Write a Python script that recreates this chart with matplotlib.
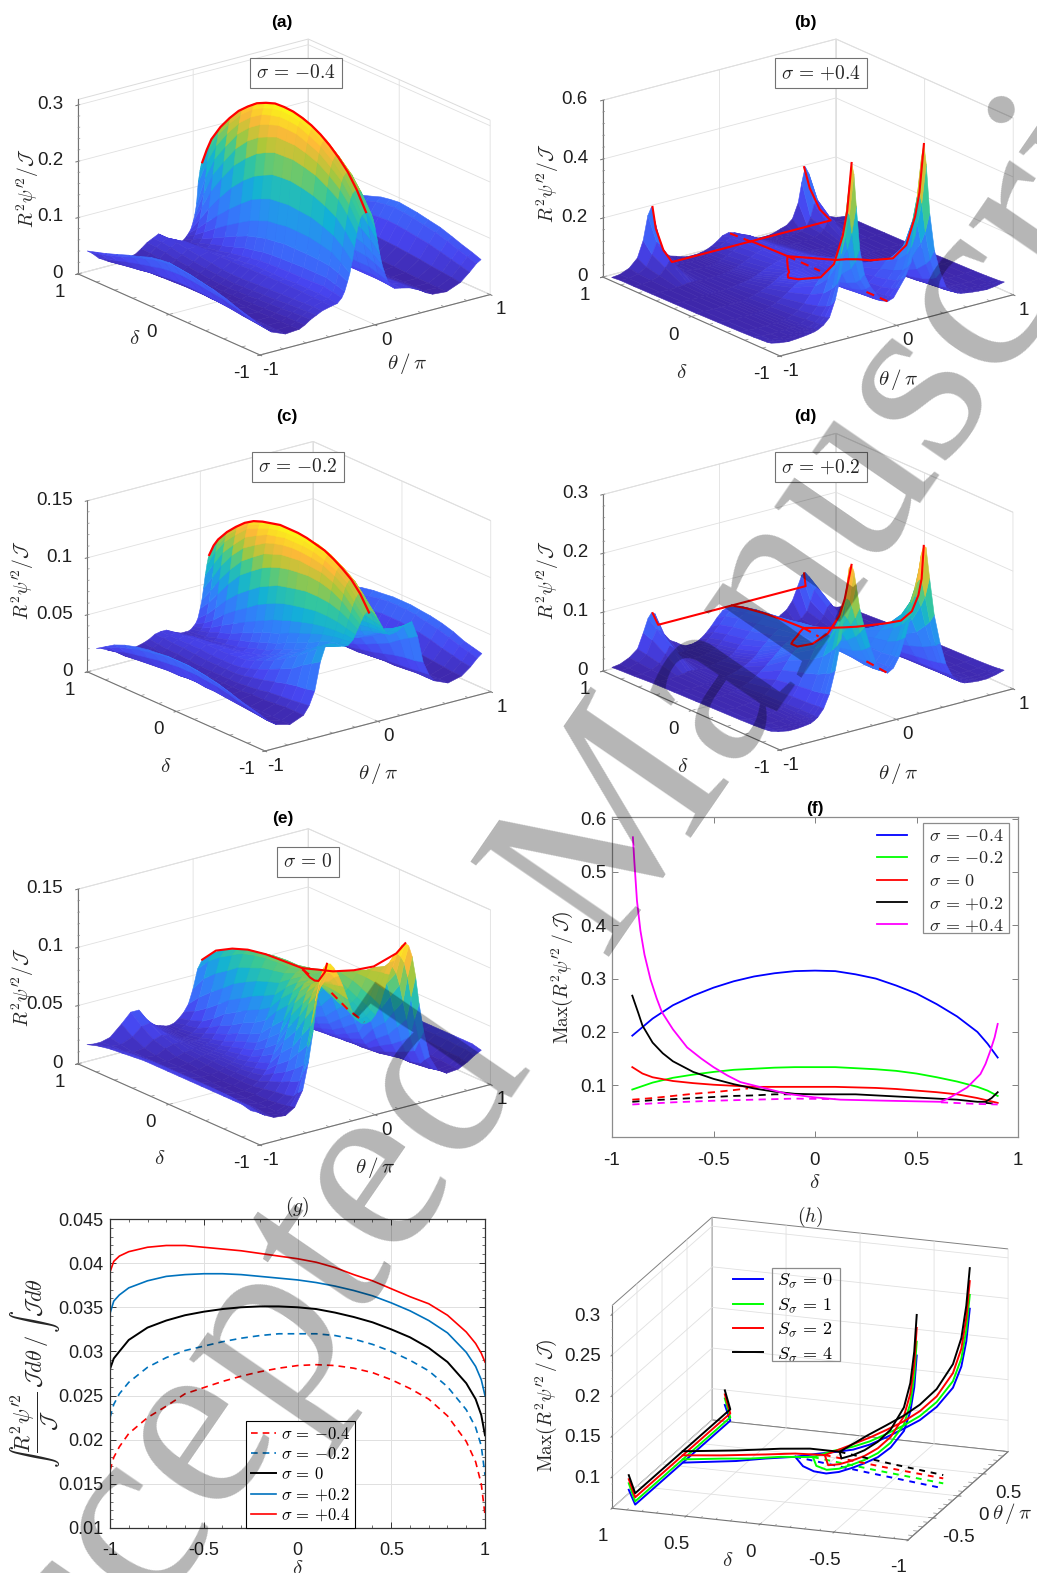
import numpy as np
import matplotlib
matplotlib.use('Agg')
import matplotlib.pyplot as plt
from matplotlib.colors import LinearSegmentedColormap, Normalize
from matplotlib.patches import Rectangle
from matplotlib.lines import Line2D
from mpl_toolkits.mplot3d import proj3d

plt.rcParams['font.family'] = ['Liberation Sans', 'DejaVu Sans']
plt.rcParams['mathtext.fontset'] = 'cm'
plt.rcParams['grid.color'] = '0.88'
plt.rcParams['grid.linewidth'] = 0.6
plt.rcParams['axes.unicode_minus'] = False

W, H = 1037, 1573
PARULA = ['#3e26a8', '#4745f0', '#3a6ffb', '#2d87f7', '#12b1d6', '#37c898', '#abc739', '#feb938', '#f9fb15']
parula = LinearSegmentedColormap.from_list('parula', PARULA)

# ---------- surface tables: rows are delta, columns theta >= 0 (values x 1e-3) ----------
delta_ac = [-.9, -.8, -.7, -.58, -.45, -.32, -.2, -.1, 0, .1, .2, .32, .45, .58, .7, .8, .9]
theta_ac = [0, .01, .02, .035, .05, .065, .08, .10, .12, .14, .16, .185, .21, .25, .30, .38, .43, .48, .53, .58, .70, .82, .90, .96, 1]
surf_a = [
    [193,193,192,190,185,175,160,136,112,92,78,62,52,44,42,38,33,28,21,16,14,24,38,50,55],
    [225,224,223,220,213,202,185,158,130,104,86,67,55,46,43,38,32,27,20,15,14,26,42,55,61],
    [250,249,247,243,235,222,205,175,143,115,92,72,58,47,43,37,31,26,20,15,15,28,46,60,66],
    [271,270,267,262,252,238,218,186,151,120,94,72,57,47,44,36,30,24,19,15,15,30,51,67,73],
    [289,288,285,279,268,252,230,195,158,124,95,72,56,47,44,35,28,23,18,14,16,33,56,73,80],
    [301,300,297,289,277,260,236,200,160,125,95,71,56,46,44,34,27,22,17,14,17,35,59,77,84],
    [310,309,305,297,284,265,240,203,162,125,95,70,55,46,44,33,26,20,16,14,18,37,62,81,88],
    [314,312,308,299,285,265,239,202,160,122,92,69,54,46,43,32,25,20,16,14,18,38,64,83,90],
    [315,313,309,299,285,265,238,200,158,120,90,67,53,46,43,31,24,19,16,14,19,39,65,85,92],
    [313,311,306,295,279,258,231,192,151,113,85,63,50,44,42,31,25,19,16,14,19,39,64,83,90],
    [308,306,300,289,272,250,222,183,143,106,80,60,47,42,42,32,26,20,16,14,19,38,62,80,87],
    [298,295,289,276,258,235,205,167,127,94,71,53,43,40,42,35,28,22,17,14,18,36,57,74,80],
    [280,277,270,256,237,212,183,145,108,80,60,46,38,37,42,38,31,25,19,15,17,33,52,67,73],
    [255,252,244,228,206,180,152,118,87,65,49,39,34,35,42,41,34,28,21,16,16,29,46,59,65],
    [229,225,216,198,175,148,120,90,66,50,39,32,30,33,41,44,38,32,24,18,15,26,40,52,58],
    [198,194,184,163,135,108,85,63,48,38,31,26,25,29,37,45,40,34,26,19,15,23,35,47,53],
    [152,148,138,118,80,62,50,38,32,27,23,20,20,25,33,45,40,35,27,20,14,20,30,42,48]]
surf_c = [
    [94,94,93,92,90,87,84,80,76,72,70,68,68,69,72,74,60,36,24,17,12,15,21,27,30],
    [105,105,104,102,99,95,90,85,78,73,69,66,65,65,67,67,55,34,23,17,12,15,22,29,32],
    [114,114,113,111,108,103,97,89,80,73,68,64,62,62,63,60,50,33,22,17,12,16,24,31,34],
    [122,121,120,118,114,109,102,92,81,72,66,60,56,55,56,53,43,31,21,16,12,17,26,34,38],
    [128,127,126,123,119,113,105,93,81,70,62,55,50,48,48,46,38,28,20,15,12,18,29,37,41],
    [131,131,129,126,121,114,106,93,79,67,58,50,45,43,42,40,33,25,18,15,13,19,31,39,43],
    [133,132,131,127,122,115,105,91,77,64,54,46,41,38,37,35,29,23,17,14,13,20,32,41,44],
    [134,133,131,127,122,114,104,89,75,61,50,42,37,34,33,32,26,21,16,14,13,20,33,42,45],
    [134,133,131,127,121,113,102,87,72,58,47,39,33,30,30,29,24,20,16,14,13,21,33,42,45],
    [133,132,130,125,119,110,99,83,68,54,44,36,31,28,28,28,23,20,16,14,13,21,33,42,45],
    [132,131,128,123,116,107,95,79,64,50,40,33,28,26,27,27,23,20,16,14,13,20,32,41,44],
    [129,127,124,118,110,100,88,72,57,45,36,30,25,24,26,27,23,20,16,14,13,20,31,39,43],
    [124,122,119,112,103,92,80,64,50,39,31,26,23,23,25,27,24,21,17,15,13,19,29,37,41],
    [116,113,109,101,92,80,68,54,42,33,27,23,21,21,24,27,24,22,18,15,14,18,27,34,38],
    [107,104,99,90,79,67,55,43,33,27,23,20,19,20,23,26,24,22,18,16,14,17,25,31,34],
    [96,93,87,77,65,54,44,34,27,23,21,19,18,19,21,25,24,23,19,17,14,16,22,27,29],
    [80,77,72,63,52,42,35,27,23,21,19,18,18,18,20,24,24,23,20,18,15,16,20,23,24]]
theta_e = [0, .04, .08, .12, .16, .2, .24, .28, .31, .34, .37, .40, .43, .46, .50, .55, .62, .7, .8, .88, .94, 1]
delta_e = [-.9, -.85, -.8, -.7, -.6, -.47, -.35, -.22, -.1, .02, .15, .27, .4, .52, .65, .78, .9]
surf_e = [
    [75,76,80,88,100,112,122,130,134,135,132,122,104,80,55,32,19,14,15,19,23,26],
    [77,78,82,90,101,111,119,124,125,122,116,103,85,65,45,28,18,14,15,19,24,27],
    [80,81,85,92,102,110,114,115,112,106,95,80,64,48,35,23,17,14,15,20,25,28],
    [84,85,88,95,103,108,110,107,101,94,82,68,54,41,31,21,16,14,16,20,25,28],
    [88,89,92,98,103,105,104,98,90,80,68,55,44,35,27,20,15,14,16,21,26,28],
    [93,94,97,100,101,99,93,85,75,65,55,45,36,29,23,18,15,14,16,22,26,28],
    [98,99,100,99,95,88,78,66,56,47,39,32,27,23,19,16,14,14,16,22,26,28],
    [98,98,96,92,86,78,68,56,47,39,33,28,24,21,18,16,14,14,17,22,26,28],
    [97,96,92,85,76,66,56,46,39,33,28,25,22,20,18,16,14,14,17,22,26,28],
    [97,96,90,82,71,60,50,41,35,30,26,23,21,20,18,16,15,15,17,22,26,28],
    [97,95,88,78,66,55,45,37,31,27,24,22,21,20,19,17,15,15,17,22,26,28],
    [95,93,84,73,60,49,39,32,27,24,22,21,20,20,19,18,16,15,17,22,26,28],
    [93,90,80,67,54,43,34,28,24,22,21,20,20,20,20,19,17,15,17,21,25,27],
    [89,85,73,59,46,35,28,24,21,20,20,20,20,21,22,22,20,16,17,21,24,26],
    [84,79,66,51,38,28,23,20,19,18,18,19,20,22,24,25,23,18,17,20,23,25],
    [77,71,57,42,31,24,21,19,18,18,19,20,21,23,27,31,30,23,19,20,21,23],
    [67,60,44,32,26,22,19,18,18,19,20,21,23,25,30,38,38,30,21,19,19,20]]
theta_bd = [0, .05, .1, .15, .2, .24, .27, .29, .31, .33, .36, .4, .45, .5, .55, .6, .63, .66, .69, .73, .78, .85, .93, 1]
delta_bd = [-0.9, -0.85, -0.8, -0.7, -0.55, -0.3, -0.05, 0.2, 0.45, 0.65, 0.8, 0.9]
surf_b = [
    [68,75,105,135,180,270,420,530,570,500,330,200,120,65,45,34,30,28,26,24,22,20,24,30],
    [66,72,95,120,155,220,320,385,400,360,260,160,95,60,42,32,28,26,24,22,21,20,23,27],
    [65,70,88,110,140,190,260,300,310,285,215,140,85,55,40,30,27,25,23,22,20,20,22,26],
    [65,68,80,100,125,160,190,200,200,190,155,110,72,50,37,28,25,23,22,21,20,19,21,24],
    [65,67,75,90,110,128,135,135,132,125,110,85,60,43,32,25,23,21,20,19,19,18,20,22],
    [64,65,70,78,86,90,90,88,85,80,72,60,46,35,27,22,20,19,18,18,17,17,18,20],
    [70,74,76,78,78,75,70,65,60,55,48,42,34,27,22,19,18,17,17,16,16,16,17,18],
    [72,71,68,62,55,48,43,39,36,33,30,27,24,21,19,18,17,17,16,16,15,15,16,17],
    [70,68,62,52,43,36,31,28,26,24,22,20,19,18,18,19,20,21,21,18,16,15,15,16],
    [68,66,58,46,36,29,25,22,20,19,18,17,17,18,21,30,40,60,70,50,28,19,15,15],
    [64,62,54,42,32,26,22,20,19,18,17,16,16,18,22,36,60,100,112,75,38,22,15,15],
    [60,55,40,28,20,17,15,15,15,15,16,20,27,33,50,100,165,215,190,110,55,28,15,12]]
surf_d = [
    [72,78,95,125,160,195,235,260,272,268,215,150,100,62,40,28,24,21,20,19,18,18,21,25],
    [72,77,92,118,148,175,198,208,212,210,180,135,92,60,40,28,24,21,20,19,18,18,20,24],
    [72,76,90,112,138,160,172,178,180,178,160,125,88,58,39,28,24,21,20,19,18,18,20,23],
    [73,76,88,105,125,138,144,145,144,142,130,108,80,55,38,28,24,21,20,19,18,18,19,22],
    [76,79,88,100,110,116,118,118,117,115,108,92,72,52,37,27,24,22,20,19,18,18,19,21],
    [80,81,85,90,93,94,93,92,91,89,84,74,60,46,34,26,23,21,20,19,18,17,18,20],
    [83,84,84,83,80,76,71,67,64,60,55,48,40,33,27,23,21,20,19,18,17,17,18,19],
    [83,82,78,71,62,55,49,44,41,38,34,30,26,23,21,20,19,18,18,17,17,16,17,18],
    [79,77,70,60,50,42,36,32,29,27,25,23,21,20,19,19,19,20,20,18,17,16,16,17],
    [75,73,66,54,44,36,30,27,25,23,21,20,19,19,20,26,34,45,50,38,25,18,15,15],
    [70,68,60,48,38,30,25,23,21,20,19,18,18,19,22,32,48,64,68,52,30,20,15,14],
    [64,60,50,38,28,22,19,18,17,17,17,20,27,33,46,70,85,88,80,58,33,22,15,13]]

# ---------- panel (f) ----------
f_delta = [-.9,-.8,-.7,-.6,-.5,-.4,-.3,-.2,-.1,0,.1,.2,.3,.4,.5,.6,.7,.8,.85,.9]
f_blue = [.193,.225,.25,.268,.283,.295,.304,.31,.314,.315,.314,.308,.3,.287,.272,.252,.229,.2,.178,.152]
f_green = [.092,.105,.114,.12,.125,.129,.131,.133,.134,.134,.134,.132,.13,.127,.122,.115,.107,.097,.09,.08]
f_red_x = [-.9,-.85,-.8,-.7,-.6,-.5,-.4,-.3,-.2,-.1,0,.1,.2,.3,.4,.5,.6,.7,.8,.9]
f_red = [.134,.122,.115,.108,.104,.101,.099,.097,.097,.097,.097,.097,.096,.095,.093,.09,.087,.083,.076,.067]
f_red_dx = [-.9,-.8,-.7,-.6,-.5,-.4,-.33]
f_red_d = [.073,.076,.08,.084,.087,.091,.094]
f_black_x = [-.9,-.87,-.85,-.8,-.75,-.7,-.6,-.5,-.4,-.3,-.2,-.1,0,.1,.2,.3,.4,.5,.6,.7,.8,.84,.87,.9]
f_black = [.268,.235,.212,.18,.16,.145,.125,.112,.102,.094,.088,.084,.083,.083,.083,.081,.079,.077,.075,.073,.069,.069,.076,.087]
f_black_dx = [-.9,-.8,-.7,-.6,-.5,-.4,-.3,-.2,-.1]
f_black_d = [.069,.072,.074,.076,.078,.08,.081,.083,.083]
f_black_dx2 = [.84, .9]
f_black_d2 = [.067, .065]
f_mag_x = [-.897,-.89,-.877,-.86,-.84,-.81,-.78,-.754,-.7,-.63,-.56,-.5,-.43,-.368,-.253,-.138,-.007,.125,.355,.617,.65,.683,.75,.815,.84,.864,.885,.9]
f_mag = [.565,.52,.446,.39,.345,.298,.263,.237,.205,.171,.15,.134,.118,.106,.095,.084,.0775,.073,.071,.069,.074,.081,.096,.121,.14,.165,.19,.215]
f_mag_dx = [-.9,-.7,-.5,-.3,-.1,.1]
f_mag_d = [.064,.068,.071,.073,.075,.074]
f_mag_dx2 = [.62,.8,.9]
f_mag_d2 = [.068,.065,.064]
sigma_labels = [r'$\sigma\,=\,{-}0.4$', r'$\sigma\,=\,{-}0.2$', r'$\sigma\,=\,0$', r'$\sigma\,=\,{+}0.2$', r'$\sigma\,=\,{+}0.4$']

# ---------- panel (g) ----------
g_x = [-1,-.98,-.95,-.9,-.8,-.7,-.6,-.5,-.4,-.3,-.2,-.1,0,.1,.2,.3,.4,.5,.6,.7,.8,.9,.95,.98,1]
g_p04 = [.039,.0402,.0408,.0413,.0418,.042,.042,.0418,.0416,.0414,.0411,.0408,.0405,.0401,.0395,.0387,.038,.0371,.0362,.0354,.0341,.0322,.0309,.0298,.0288]
g_p02 = [.0343,.0357,.0364,.0372,.038,.0385,.0387,.0388,.0388,.0387,.0385,.0383,.0381,.0378,.0374,.0369,.0363,.0355,.0346,.0335,.0321,.0299,.0283,.0268,.025]
g_0 = [.028,.0292,.03,.0313,.0327,.0335,.0341,.0345,.0348,.035,.0351,.0351,.035,.0348,.0344,.0339,.0333,.0325,.0316,.0304,.0288,.0264,.0246,.0228,.0205]
g_m02 = [.0225,.024,.0252,.0265,.0282,.0293,.0301,.0306,.0311,.0315,.0318,.032,.032,.032,.0318,.0314,.0308,.03,.029,.0278,.026,.0234,.0214,.0193,.016]
g_m04 = [.0165,.018,.0192,.0207,.0225,.0238,.0252,.0259,.0266,.0272,.0277,.0281,.0284,.0285,.0284,.0281,.0276,.0268,.0258,.0246,.0227,.0198,.0175,.015,.0115]

# ---------- panel (h): ridge (delta, |theta|, z), theta=0 solid, dashed, end pieces ----------
S_labels = [r'$S_\sigma\,=\,0$', r'$S_\sigma\,=\,1$', r'$S_\sigma\,=\,2$', r'$S_\sigma\,=\,4$']
S_colors = ['#0000ff', '#00ff00', '#ff0000', '#000000']
h_ridge_d = [[-.9,-.88,-.85,-.8,-.7,-.6,-.5,-.4,-.3,-.2,-.1,0,.1],
             [-.9,-.88,-.85,-.8,-.7,-.6,-.5,-.4,-.3,-.2,-.1,-.02],
             [-.9,-.88,-.85,-.8,-.7,-.6,-.5,-.4,-.3,-.2,-.1],
             [-.9,-.88,-.85,-.8,-.7,-.6,-.5,-.4,-.3,-.2]]
h_ridge_t = [[.53,.52,.51,.49,.46,.42,.39,.35,.31,.27,.22,.14,0],
             [.53,.52,.51,.49,.46,.42,.39,.35,.31,.26,.17,0],
             [.53,.52,.51,.49,.46,.42,.39,.35,.3,.23,0],
             [.53,.52,.51,.49,.46,.42,.39,.34,.26,0]]
h_ridge_z = [[.261,.221,.19,.164,.14,.124,.113,.103,.094,.088,.086,.086,.088],
             [.278,.235,.2,.172,.146,.129,.117,.107,.098,.092,.09,.09],
             [.295,.25,.212,.182,.153,.135,.122,.112,.103,.096,.094],
             [.311,.265,.225,.193,.162,.143,.129,.118,.108,.1]]
h_zero_d = [[.1,.3,.5,.7,.86], [-.02,.2,.4,.6,.86], [-.1,.1,.3,.6,.86], [-.2,0,.2,.5,.86]]
h_zero_z = [[.088,.082,.075,.07,.066], [.09,.086,.08,.076,.07], [.094,.092,.087,.08,.075], [.1,.1,.096,.088,.08]]
h_dash_d = [[.1,-.4,-.9], [-.02,-.45,-.9], [-.1,-.5,-.9], [-.2,-.55,-.9]]
h_dash_z = [[.088,.078,.0687], [.09,.082,.0748], [.094,.087,.0809], [.1,.092,.085]]
h_top_z = [.084, .092, .097, .102]
h_end_theta = [-.96, -.95, .95, .96]
h_end_delta = [.9, .86, .86, .9]


def fx(px):
    return px / W


def fy(py):
    return 1 - py / H


def pr(ax, x, y, z):
    xs, ys, _ = proj3d.proj_transform(x, y, z, ax.get_proj())
    return ax.transData.transform((xs, ys))


def fit3d(ax, p1, p2, t1, t2):
    """scale and move the square 3D axes so data points p1, p2 land on pixels t1, t2"""
    S = 500.0
    cx, cy = 500.0, 800.0
    for _ in range(4):
        ax.set_position([fx(cx - S / 2), fy(cy + S / 2), S / W, S / H])
        ax.apply_aspect()
        a, b = pr(ax, *p1), pr(ax, *p2)
        S *= np.hypot(t2[0] - t1[0], t2[1] - t1[1]) / np.hypot(*(b - a))
        ax.set_position([fx(cx - S / 2), fy(cy + S / 2), S / W, S / H])
        ax.apply_aspect()
        a = pr(ax, *p1)
        cx += t1[0] - a[0]
        cy -= (H - t1[1]) - a[1]
    ax.set_position([fx(cx - S / 2), fy(cy + S / 2), S / W, S / H])
    ax.apply_aspect()


def pin(ax, label, px, py, rot=0):
    """keep a 3D axis label as the axis' own text, at a fixed place on the page (after fit3d)"""
    label.set_position(tuple(ax.transData.inverted().transform((px, H - py))))
    label.set_rotation(rot)
    label.set_position = lambda xy: None


def style3d(ax, xticks, xl, yticks, yl, zticks, zl, zmax, zmin=0, edge='0.86', xpad=0, ypad=0, zpad=0,
            minor=(0.2, 0.2, None)):
    ax.set_proj_type('ortho')
    ax.patch.set_alpha(0)
    ax.set_xlim(-1, 1)
    ax.set_ylim(-1, 1)
    ax.set_zlim(zmin, zmax)
    ax.set_xticks(xticks, labels=xl, va='center')
    ax.set_yticks(yticks, labels=yl, va='center')
    ax.set_zticks(zticks, labels=zl, ha='right', va='center')
    for axis in (ax.xaxis, ax.yaxis, ax.zaxis):
        axis.set_pane_color((1, 1, 1, 1))
        axis.pane.set_edgecolor(edge)
        axis.pane.set_linewidth(0.7)
        axis.line.set_color('0.45')
        axis.line.set_linewidth(0.8)
        axis.set_rotate_label(False)
        axis._axinfo['tick'].update(inward_factor=0.12, outward_factor=0.0)
        axis._axinfo['tick']['linewidth'] = {True: 0.7, False: 0.5}
        axis._axinfo['grid'].update(color='0.88', linewidth=0.6)
    ax.tick_params(axis='both', labelsize=13.5, labelcolor='0.12', color='0.45')
    ax.tick_params(axis='x', pad=xpad)
    ax.tick_params(axis='y', pad=ypad)
    ax.tick_params(axis='z', pad=zpad)
    # minor tick marks on the three drawn edges
    mx, my, mz = minor
    for v in np.arange(-1, 1.0001, mx):
        ax.plot([v, v], [-1, -0.97], [zmin, zmin], color='0.55', lw=0.5, zorder=0.5)
    for v in np.arange(-1, 1.0001, my):
        ax.plot([-1, -0.97], [v, v], [zmin, zmin], color='0.55', lw=0.5, zorder=0.5)
    for v in np.arange(zmin, zmax + 1e-9, mz):
        ax.plot([-1, -0.985], [1, 1], [v, v], color='0.55', lw=0.5, zorder=0.5)


def surface(ax, th_half, deltas, rows):
    th_half = np.array(th_half, float)
    rows = np.array(rows, float) * 1e-3
    th = np.r_[-th_half[:0:-1], th_half]
    Z = np.hstack([rows[:, :0:-1], rows])
    X, Y = np.meshgrid(th, np.array(deltas, float))
    faces = (Z[:-1, :-1] + Z[1:, :-1] + Z[:-1, 1:] + Z[1:, 1:]) / 4
    fc = parula(Normalize(Z.min(), Z.max())(faces))
    ax.plot_surface(X, Y, Z, rstride=1, cstride=1, facecolors=fc, linewidth=0.4, antialiased=True,
                    shade=False, zorder=1)


def red(ax, t, d, z, ls='-', lw=1.5):
    ax.plot(t, d, z, color='#ff0000', lw=lw, ls=ls, zorder=5)


def title3d(ax, txt, px, py, **kw):
    t = ax.set_title(txt, transform=fig.transFigure, **kw)
    t.set_position((fx(px), fy(py)))
    t.set_verticalalignment('center')
    ax._autotitlepos = False


fig = plt.figure(figsize=(W / 100, H / 100), dpi=100)


def panel(title, tpos, sig, spos, anchors, aspect, zticks, zl, zmax, th, dl, rows, minor_z, lab_t, lab_d, lab_z):
    ax = fig.add_subplot(projection='3d', computed_zorder=False)
    ax.view_init(elev=20, azim=-127.5)
    ax.set_box_aspect((1, aspect, 0.64))
    style3d(ax, [-1, 0, 1], ['-1', '0', '1'], [-1, 0, 1], ['-1', '0', '1'], zticks, zl, zmax,
            xpad=2, ypad=5, zpad=-2, minor=(0.2, 0.2, minor_z))
    surface(ax, th, dl, rows)
    ax.set_xlabel(r'$\theta\,/\,\pi$', fontsize=15, color='0.15')
    ax.set_ylabel(r'$\delta$', fontsize=15, color='0.15')
    ax.set_zlabel(r"$R^2\psi^{\prime 2}/\mathcal{J}$", fontsize=14, color='0.15')
    fit3d(ax, (-1, -1, 0), (1, -1, 0), anchors[0], anchors[1])
    pin(ax, ax.xaxis.label, *lab_t)
    pin(ax, ax.yaxis.label, *lab_d)
    pin(ax, ax.zaxis.label, *lab_z, rot=90)
    title3d(ax, title, tpos[0], tpos[1], fontweight='bold', fontsize=12.5)
    ax.text2D(fx(spos[0]), fy(spos[1]), sig, transform=fig.transFigure, fontsize=14, ha='center', va='center',
              color='0.15', zorder=20,
              bbox=dict(boxstyle='square,pad=0.3', fc='white', ec='0.45', lw=0.8))
    return ax


ax_a = panel('(a)', (282, 22), sigma_labels[0], (296, 73), ((260, 355), (490, 294)), 1.03,
             [0, .1, .2, .3], ['0', '0.1', '0.2', '0.3'], .31, theta_ac, delta_ac, surf_a, .02,
             (407, 364), (135, 338), (28, 188))
red(ax_a, np.zeros(len(f_delta)), f_delta, f_blue, lw=1.6)

ax_b = panel('(b)', (805, 22), sigma_labels[4], (821, 73), ((780, 356), (1013, 294)), 0.99,
             [0, .2, .4, .6], ['0', '0.2', '0.4', '0.6'], .6, theta_bd, delta_bd, surf_b, .04,
             (898, 380), (682, 373), (548, 183))
b_rd = [-.9, -.85, -.8, -.7, -.55, -.3, -.17, -.1, -.05, .03, .1, .17, .23, .45, .64]
b_rt = [.31, .31, .31, .31, .31, .31, .3, .25, .2, .15, .1, .05, 0, 0, 0]
b_rz = [.57, .4, .31, .2, .135, .095, .082, .078, .074, .072, .071, .07, .07, .068, .066]
red(ax_b, b_rt, b_rd, b_rz)
red(ax_b, -np.array(b_rt[:13]), b_rd[:13], b_rz[:13])
b_jt = [.65, .66, .67, .68, -.68, -.67, -.66, -.65]
b_jd = [.9, .85, .75, .64, .64, .75, .85, .9]
b_jz = [.215, .15, .09, .066, .066, .09, .15, .215]
red(ax_b, b_jt, b_jd, b_jz)
red(ax_b, [0, 0], [.23, -.135], [.07, .069], ls=(0, (4, 3)))
red(ax_b, [0, 0], [-.66, -.9], [.068, .068], ls=(0, (4, 3)))
red(ax_b, [0, 0], [.64, .9], [.064, .06], ls=(0, (4, 3)))

ax_c = panel('(c)', (287, 417), sigma_labels[1], (298, 467), ((265, 751), (490, 689)), 1.025,
             [0, .05, .1, .15], ['0', '0.05', '0.1', '0.15'], .15, theta_ac, delta_ac, surf_c, .01,
             (378, 774), (166, 767), (23, 580))
red(ax_c, np.zeros(len(f_delta)), f_delta, f_green, lw=1.6)

ax_d = panel('(d)', (805, 416), sigma_labels[3], (821, 467), ((780, 750), (1013, 689)), 0.99,
             [0, .1, .2, .3], ['0', '0.1', '0.2', '0.3'], .3, theta_bd, delta_bd, surf_d, .02,
             (898, 774), (683, 767), (548, 580))
d_rd = [-.9, -.85, -.8, -.7, -.55, -.38, -.18, -.12, -.05, 0, .05, .3, .5, .7, .86]
d_rt = [.31, .33, .34, .36, .38, .38, .28, .22, .13, .07, 0, 0, 0, 0, 0]
d_rz = [.272, .212, .18, .145, .118, .102, .088, .086, .085, .085, .085, .083, .08, .075, .069]
red(ax_d, d_rt, d_rd, d_rz)
red(ax_d, -np.array(d_rt[:11]), d_rd[:11], d_rz[:11])
red(ax_d, [.65, .633, -.633, -.65], [.9, .86, .86, .9], [.087, .069, .069, .087])
red(ax_d, [0, 0], [.05, -.12], [.085, .082], ls=(0, (4, 3)))
red(ax_d, [0, 0], [-.66, -.9], [.076, .072], ls=(0, (4, 3)))

ax_e = panel('(e)', (283, 818), sigma_labels[2], (308, 862), ((260, 1145), (490, 1083)), 1.03,
             [0, .05, .1, .15], ['0', '0.05', '0.1', '0.15'], .15, theta_e, delta_e, surf_e, .01,
             (375, 1168), (160, 1158), (23, 987))
e_rd = [-.9, -.84, -.68, -.55, -.41, -.3, -.2, 0, .2, .4, .57, .75, .9]
e_rt = [.34, .31, .24, .17, .10, .05, 0, 0, 0, 0, 0, 0, 0]
e_rz = [.135, .125, .11, .104, .1, .099, .098, .097, .096, .093, .088, .08, .067]
red(ax_e, e_rt, e_rd, e_rz)
red(ax_e, -np.array(e_rt[:7]), e_rd[:7], e_rz[:7])
red(ax_e, [0, 0], [-.2, -.28], [.097, .095], ls=(0, (4, 3)))
red(ax_e, [0, 0, 0], [-.52, -.7, -.88], [.088, .08, .0755], ls=(0, (4, 3)))

# ---------- panel (f) ----------
axf = fig.add_axes([fx(612), fy(1137), fx(1018) - fx(612), fy(817) - fy(1137)])
lwf = 1.3
axf.plot(f_delta, f_blue, color='#0000ff', lw=lwf)
axf.plot(f_delta, f_green, color='#00ff00', lw=lwf)
axf.plot(f_red_x, f_red, color='#ff0000', lw=lwf)
axf.plot(f_red_dx, f_red_d, color='#ff0000', lw=lwf, ls=(0, (4, 3)))
axf.plot(f_black_x, f_black, color='k', lw=lwf)
axf.plot(f_black_dx, f_black_d, color='k', lw=lwf, ls=(0, (4, 3)))
axf.plot(f_black_dx2, f_black_d2, color='k', lw=lwf, ls=(0, (4, 3)))
axf.plot(f_mag_x, f_mag, color='#ff00ff', lw=lwf)
axf.plot(f_mag_dx, f_mag_d, color='#ff00ff', lw=lwf, ls=(0, (4, 3)))
axf.plot(f_mag_dx2, f_mag_d2, color='#ff00ff', lw=lwf, ls=(0, (4, 3)))
axf.set_xlim(-1, 1)
axf.set_ylim(.003, .603)
axf.set_xticks([-1, -.5, 0, .5, 1], labels=['-1', '-0.5', '0', '0.5', '1'])
axf.set_yticks([.1, .2, .3, .4, .5, .6], labels=['0.1', '0.2', '0.3', '0.4', '0.5', '0.6'])
axf.tick_params(direction='in', length=4, width=0.7, color='0.5', labelcolor='0.12', labelsize=13.5, top=True, right=True)
axf.tick_params(axis='x', pad=11)
axf.tick_params(axis='y', pad=4)
for s in axf.spines.values():
    s.set_color('0.55')
    s.set_linewidth(0.9)
axf.set_xlabel(r'$\delta$', fontsize=15, labelpad=3, color='0.15')
axf.set_ylabel(r"$\mathrm{Max}(R^2\psi^{\prime 2}\,/\,\mathcal{J})$", fontsize=14, color='0.15')
axf.yaxis.set_label_coords(-0.091, 0.5)
axf.set_title('(f)', fontweight='bold', fontsize=12.5, pad=3)
hf = [Line2D([], [], color=c, lw=lwf) for c in ['#0000ff', '#00ff00', '#ff0000', 'k', '#ff00ff']]
lf = axf.legend(hf, sigma_labels, loc='upper left', bbox_to_anchor=(fx(877), fy(828)), bbox_transform=fig.transFigure,
                frameon=False, fontsize=13, handlelength=1.66, handletextpad=1.2, labelspacing=0.3, borderpad=0, borderaxespad=0)
for t in lf.get_texts():
    t.set_color('0.15')
axf.add_patch(Rectangle((fx(923), fy(933)), fx(1009) - fx(923), fy(823) - fy(933), transform=fig.transFigure,
                        fill=False, ec='0.55', lw=0.9, clip_on=False, zorder=3))

# ---------- panel (g) ----------
axg = fig.add_axes([fx(110), fy(1528), fx(485) - fx(110), fy(1219) - fy(1528)])
blue_m = '#0072bd'
axg.plot(g_x, g_m04, color='#ff0000', lw=1.2, ls=(0, (4, 3)), label=sigma_labels[0])
axg.plot(g_x, g_m02, color=blue_m, lw=1.2, ls=(0, (4, 3)), label=sigma_labels[1])
axg.plot(g_x, g_0, color='k', lw=1.4, label=sigma_labels[2])
axg.plot(g_x, g_p02, color=blue_m, lw=1.2, label=sigma_labels[3])
axg.plot(g_x, g_p04, color='#ff0000', lw=1.2, label=sigma_labels[4])
axg.set_xlim(-1, 1)
axg.set_ylim(.01, .045)
axg.set_xticks([-1, -.5, 0, .5, 1], labels=['-1', '-0.5', '0', '0.5', '1'])
gy = [.01, .015, .02, .025, .03, .035, .04, .045]
axg.set_yticks(gy, labels=['0.01', '0.015', '0.02', '0.025', '0.03', '0.035', '0.04', '0.045'])
axg.set_xticks(np.arange(-1, 1.001, .1), minor=True)
axg.set_yticks(np.arange(.01, .0451, .001), minor=True)
axg.grid(True, which='major', color='0.88', lw=0.7)
axg.set_axisbelow(True)
axg.tick_params(which='major', direction='in', length=4, width=0.7, color='0.2', labelcolor='0.12', labelsize=13, top=True, right=True)
axg.tick_params(axis='x', which='major', pad=10)
axg.tick_params(axis='y', which='major', pad=5)
axg.tick_params(which='minor', direction='in', length=2, width=0.5, color='0.2', top=True, right=True)
for s in axg.spines.values():
    s.set_color('0.2')
    s.set_linewidth(0.9)
axg.set_xlabel(r'$\delta$', fontsize=15, labelpad=0, color='0.15')
axg.set_ylabel(r"$\int\,\dfrac{R^2\psi^{\prime 2}}{\mathcal{J}}\,\mathcal{J}d\theta\,/\,\int\,\mathcal{J}d\theta$", fontsize=16, color='0.15')
axg.yaxis.set_label_coords(-0.128, 0.5)
axg.set_title(r'$(g)$', fontsize=14, pad=5, color='0.15')
lg = axg.legend(loc='upper left', bbox_to_anchor=(fx(246), fy(1421)), bbox_transform=fig.transFigure, fontsize=12,
                fancybox=False, framealpha=1, edgecolor='k', handlelength=1.5, handletextpad=0.3, labelspacing=0.24,
                borderpad=0.3, borderaxespad=0)
lg.get_frame().set_linewidth(0.8)

# ---------- panel (h) ----------
axh = fig.add_subplot(projection='3d', computed_zorder=False)
axh.view_init(elev=17.9, azim=-160.8)
axh.set_box_aspect((1, 1.03, 0.7))
style3d(axh, [-.5, 0, .5], ['-0.5', '0', '0.5'], [-1, -.5, 0, .5, 1], ['-1', '-0.5', '0', '0.5', '1'],
        [.1, .15, .2, .25, .3], ['0.1', '0.15', '0.2', '0.25', '0.3'], .311, zmin=.0614, edge='0.5',
        xpad=7, ypad=9, zpad=-3, minor=(0.1, 0.1, .01))
for i, col in enumerate(S_colors):
    rd, rt, rz = np.array(h_ridge_d[i]), np.array(h_ridge_t[i]), np.array(h_ridge_z[i])
    axh.plot(rt, rd, rz, color=col, lw=1.4, zorder=5 + i)
    axh.plot(-rt, rd, rz, color=col, lw=1.4, zorder=5 + i)
    axh.plot(np.zeros(5), h_zero_d[i], h_zero_z[i], color=col, lw=1.4, zorder=5 + i)
    axh.plot(np.zeros(3), h_dash_d[i], h_dash_z[i], color=col, lw=1.4, ls=(0, (3, 3)), zorder=5 + i)
    cz = h_zero_z[i][-1]
    axh.plot(h_end_theta, h_end_delta, [h_top_z[i], cz, cz, h_top_z[i]], color=col, lw=1.4, zorder=5 + i)
axh.set_xlabel(r'$\theta\,/\,\pi$', fontsize=15, color='0.15')
axh.set_ylabel(r'$\delta$', fontsize=15, color='0.15')
axh.set_zlabel(r"$\mathrm{Max}(R^2\psi^{\prime 2}\,/\,\mathcal{J})$", fontsize=14, color='0.15')
fit3d(axh, (-1, -1, .0614), (-1, 1, .0614), (908, 1540), (612, 1508))
pin(axh, axh.xaxis.label, 1012, 1513)
pin(axh, axh.yaxis.label, 728, 1560)
pin(axh, axh.zaxis.label, 546, 1405, rot=90)
title3d(axh, r'$(h)$', 810, 1217, fontsize=14, color='0.15')
hh = [Line2D([], [], color=c, lw=1.4) for c in S_colors]
lh = axh.legend(hh, S_labels, loc='upper left', bbox_to_anchor=(fx(733), fy(1272)), bbox_transform=fig.transFigure,
                frameon=False, fontsize=13, handlelength=1.66, handletextpad=0.78, labelspacing=0.33, borderpad=0, borderaxespad=0)
fig.add_artist(Rectangle((fx(772), fy(1361)), fx(840) - fx(772), fy(1268) - fy(1361), transform=fig.transFigure,
                         fill=False, ec='0.55', lw=0.9, zorder=30))

# ---------- watermark ----------
fig.text(fx(575), fy(898), 'Accepted  Manuscript', fontsize=184, family='Liberation Serif', color='k', alpha=0.29,
         rotation=55.5, rotation_mode='anchor', ha='center', va='center', zorder=100)

fig.savefig('out.png', dpi=100)
